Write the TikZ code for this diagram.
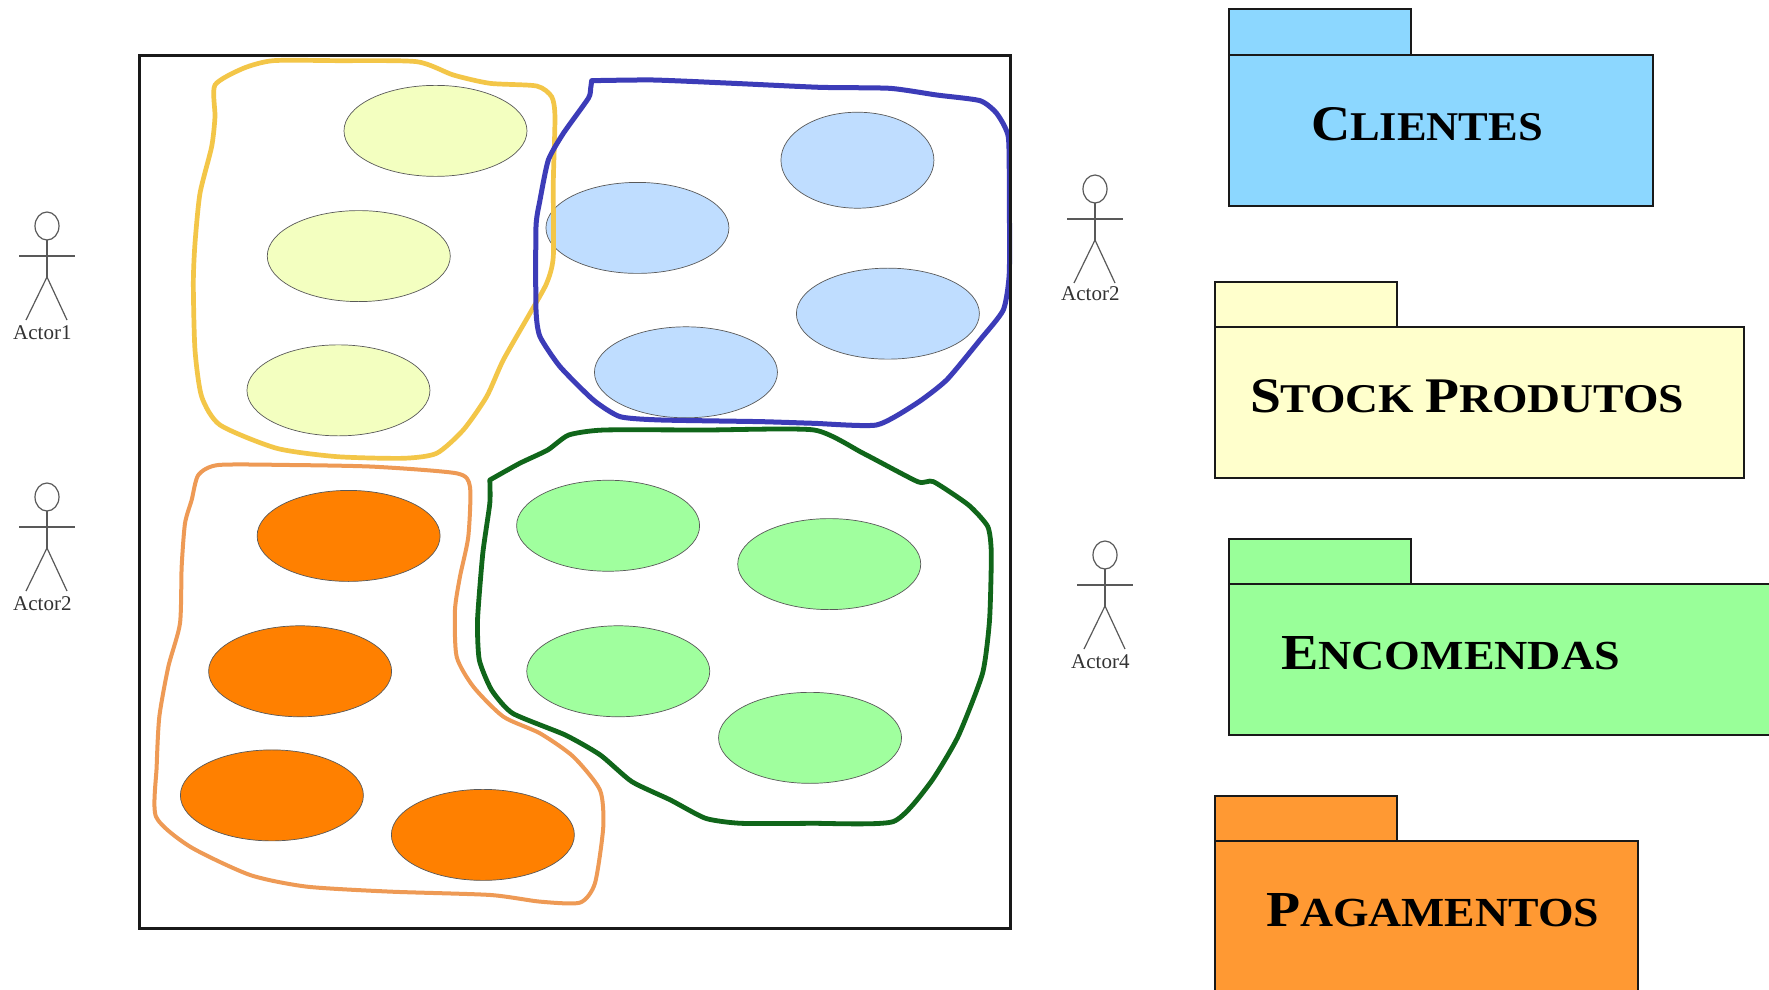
\documentclass[tikz,border=0pt]{standalone}
\usepackage{fontspec}
\setmainfont{Liberation Serif}
\usetikzlibrary{shapes.geometric}
\definecolor{pkblue}{HTML}{8CD7FF}
\definecolor{pkyellow}{HTML}{FFFFCC}
\definecolor{pkgreen}{HTML}{99FF99}
\definecolor{pkorange}{HTML}{FF9933}
\definecolor{elyellow}{HTML}{F3FFC0}
\definecolor{elblue}{HTML}{BFDDFF}
\definecolor{elorange}{HTML}{FF8000}
\definecolor{elgreen}{HTML}{A0FF9E}
\definecolor{blobyellow}{HTML}{F3C648}
\definecolor{blobblue}{HTML}{3C3CB8}
\definecolor{bloborange}{HTML}{EE9A55}
\definecolor{blobgreen}{HTML}{10661A}
\newcommand{\capbig}[1]{{\fontsize{50}{50}\selectfont #1}}
\newcommand{\capsma}[1]{{\fontsize{41}{41}\selectfont #1}}
\newcommand{\pkgtext}[3]{\resizebox{#1pt}{#2pt}{\bfseries #3}}
\newcommand{\actorfig}[5]{%
  \begin{scope}[shift={(#1,#2)}]
    \draw[actorline] (0,0) ellipse [x radius=12, y radius=14];
    \draw[actorline] (0,14) -- (0,51);
    \draw[actorline] (-28,30) -- (28,30);
    \draw[actorline] (-21,94) -- (0,51) -- (20,94);
    \node[actorlabel] (#3) at (-34,#5) {#4};
  \end{scope}}
\tikzset{
  x=1pt,y=-1pt,
  frame/.style={draw=black!90,line width=3pt},
  pk/.style={draw=black!90,line width=1.6pt},
  pklabel/.style={anchor=base west,inner sep=0pt,outer sep=0pt,text=black},
  ell/.style={ellipse,draw=black!65,line width=0.7pt,minimum width=183pt,minimum height=91pt,inner sep=0pt},
  ellsmall/.style={ell,minimum width=153pt,minimum height=96pt},
  blobline/.style={line join=round,line cap=round},
  actorline/.style={draw=black!65,line width=1.2pt},
  actorlabel/.style={anchor=base west,inner sep=0pt,text=black!80,font=\fontsize{21}{21}\selectfont},
}
\begin{document}
\begin{tikzpicture}
\useasboundingbox (0,0) rectangle (1769,990);
\fill[white] (0,0) rectangle (1769,990);

% ellipses
\begin{scope}[x=1.1282pt,y=-1.1282pt]
\node[ell,fill=elyellow] (y1) at (386,116) {};
\node[ell,fill=elyellow] (y2) at (318,227) {};
\node[ell,fill=elyellow] (y3) at (300,346) {};
\node[ellsmall,fill=elblue] (b1) at (760,142) {};
\node[ell,fill=elblue] (b2) at (565,202) {};
\node[ell,fill=elblue] (b3) at (787,278) {};
\node[ell,fill=elblue] (b4) at (608,330) {};
\node[ell,fill=elorange] (o1) at (309,475) {};
\node[ell,fill=elorange] (o2) at (266,595) {};
\node[ell,fill=elorange] (o3) at (241,705) {};
\node[ell,fill=elorange] (o4) at (428,740) {};
\node[ell,fill=elgreen] (g1) at (539,466) {};
\node[ell,fill=elgreen] (g2) at (735,500) {};
\node[ell,fill=elgreen] (g3) at (548,595) {};
\node[ell,fill=elgreen] (g4) at (718,654) {};
\end{scope}

% hand-drawn outlines
\begin{scope}[shift={(170,50)},x=0.3333pt,y=-0.3333pt]
\draw[blobyellow,line width=4.7pt,blobline] plot[smooth cycle,tension=0.4] coordinates {
 (135,105) (220,55) (310,32) (500,32) (740,35) (850,75) (960,100) (1100,108) (1145,140)
 (1155,200) (1150,400) (1150,620) (1130,700) (1080,790) (1000,930) (950,1040) (880,1140)
 (800,1210) (700,1225) (500,1220) (320,1195) (150,1125) (95,1040) (75,900) (70,700)
 (75,580) (90,430) (125,290) (135,200)};
\end{scope}
\begin{scope}[shift={(520,60)},x=0.3333pt,y=-0.3333pt]
\draw[blobblue,line width=5pt,blobline] plot[smooth,tension=0.35] coordinates {
 (215,62) (400,60) (640,70) (900,82) (1110,85) (1250,105) (1380,122) (1430,160) (1465,230)
 (1468,400) (1468,640) (1450,750) (1380,840) (1280,960) (1190,1030) (1070,1095) (880,1090)
 (720,1085) (420,1080) (300,1070) (220,1020) (120,920) (60,830) (48,750) (48,500) (60,420)
 (85,300) (130,220) (205,115) (212,85) (215,62)};
\end{scope}
\begin{scope}[shift={(140,450)},x=0.3333pt,y=-0.3333pt]
\draw[bloborange,line width=4pt,blobline] plot[smooth cycle,tension=0.4] coordinates {
 (175,75) (235,45) (450,45) (700,50) (950,70) (990,110) (985,260) (960,380) (945,480)
 (950,620) (1000,710) (1090,800) (1200,850) (1300,920) (1380,1020) (1390,1130) (1365,1300)
 (1320,1358) (1200,1355) (1050,1335) (750,1325) (500,1310) (330,1275) (150,1190) (48,1100)
 (50,950) (58,800) (85,650) (120,520) (125,350) (135,220) (155,150)};
\end{scope}
\begin{scope}[shift={(460,420)},x=0.3507pt,y=-0.3333pt]
\draw[blobgreen,line width=4.8pt,blobline] plot[smooth,tension=0.35] coordinates {
 (85,180) (170,130) (250,90) (310,45) (410,30) (700,30) (1010,30) (1150,100) (1305,185)
 (1350,185) (1450,255) (1505,320) (1515,400) (1510,600) (1490,760) (1420,950) (1340,1090)
 (1235,1205) (1000,1210) (800,1210) (700,1195) (600,1140) (490,1085) (400,1005) (300,945)
 (150,880) (90,810) (55,720) (50,600) (65,400) (85,250) (85,180)};
\end{scope}

\draw[frame] (139,56) rectangle (1010,928);

% actors
\actorfig{47}{226}{a1}{Actor1}{113}
\actorfig{47}{497}{a2}{Actor2}{113}
\actorfig{1095}{189}{a3}{Actor2}{111}
\actorfig{1105}{555}{a4}{Actor4}{113}

% packages
\draw[pk,fill=pkblue] (1229,9) rectangle (1411,55);
\draw[pk,fill=pkblue] (1229,55) rectangle (1653,206);
\node[pklabel] (clientes) at (1311,140) {\pkgtext{232}{33}{\capbig{C}\capsma{LIENTES}}};

\draw[pk,fill=pkyellow] (1215,282) rectangle (1397,327);
\draw[pk,fill=pkyellow] (1215,327) rectangle (1744,478);
\node[pklabel] (stock) at (1250,412) {\pkgtext{434}{33}{\capbig{S}\capsma{TOCK }\capbig{P}\capsma{RODUTOS}}};

\draw[pk,fill=pkgreen] (1229,539) rectangle (1411,584);
\draw[pk,fill=pkgreen] (1229,584) rectangle (1780,735);
\node[pklabel] (encomendas) at (1281,669) {\pkgtext{339}{33}{\capbig{E}\capsma{NCOMENDAS}}};

\draw[pk,fill=pkorange] (1215,796) rectangle (1397,841);
\draw[pk,fill=pkorange] (1215,841) rectangle (1638,1000);
\node[pklabel] (pagamentos) at (1266,926) {\pkgtext{333}{33}{\capbig{P}\capsma{AGAMENTOS}}};
\end{tikzpicture}
\end{document}
